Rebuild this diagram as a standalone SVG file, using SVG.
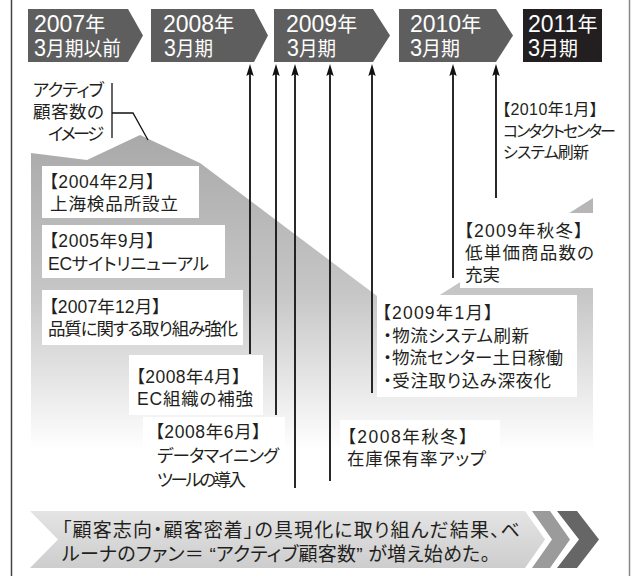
<svg xmlns="http://www.w3.org/2000/svg" width="631" height="576" viewBox="0 0 631 576">
<defs>
<linearGradient id="mtn" gradientUnits="userSpaceOnUse" x1="0" y1="135" x2="0" y2="450">
<stop offset="0" stop-color="#a9a9a9"/>
<stop offset="0.5" stop-color="#c6c6c6"/>
<stop offset="1" stop-color="#ffffff"/>
</linearGradient>
<linearGradient id="ban" x1="0" y1="0" x2="0" y2="1">
<stop offset="0" stop-color="#e4e4e4"/>
<stop offset="1" stop-color="#cdcdcd"/>
</linearGradient>
<marker id="ah" viewBox="0 0 12 8" refX="6" refY="4" markerWidth="12" markerHeight="8" markerUnits="userSpaceOnUse" orient="auto-start-reverse">
<path d="M0,0.3 L12,4 L0,7.7 L2,4 Z" fill="#111"/>
</marker>
</defs>
<style>
text{font-family:"Liberation Sans","Noto Sans CJK JP",sans-serif;font-feature-settings:"palt" 1;fill:#231f20}
.hd{font-size:20px;fill:#fff}
.hn{font-size:23px}
.t{font-size:17.5px}
.s{font-size:16px}
.b{font-size:19px}
.box{fill:#fff}
.arr{stroke:#111;stroke-width:1.8;fill:none;marker-start:url(#ah)}
</style>
<rect width="631" height="576" fill="#fff"/>
<line x1="11.5" y1="0" x2="11.5" y2="576" stroke="#444" stroke-width="1.5"/>
<line x1="629.5" y1="0" x2="629.5" y2="576" stroke="#888" stroke-width="1.5"/>

<g id="mountain">
<polygon points="31,153 87,160 140,135 200,163 405,317 593,198 593,470 31,470" fill="url(#mtn)"/>
</g>

<g id="header">
<g id="h2007"><polygon points="28,9 128,9 143,35.5 128,62 28,62" fill="#5e5e5e"/>
<text class="hd" x="34" y="31.5"><tspan class="hn">2007</tspan>年</text><text class="hd" x="34" y="55.5" textLength="87" lengthAdjust="spacingAndGlyphs"><tspan class="hn">3</tspan>月期以前</text></g>
<g id="h2008"><polygon points="151,9 254,9 268,35.5 254,62 151,62" fill="#5e5e5e"/>
<text class="hd" x="163" y="31.5"><tspan class="hn">2008</tspan>年</text><text class="hd" x="164" y="55.5" textLength="49" lengthAdjust="spacingAndGlyphs"><tspan class="hn">3</tspan>月期</text></g>
<g id="h2009"><polygon points="274,9 373,9 390,35.5 373,62 274,62" fill="#5e5e5e"/>
<text class="hd" x="286" y="31.5"><tspan class="hn">2009</tspan>年</text><text class="hd" x="287" y="55.5" textLength="49" lengthAdjust="spacingAndGlyphs"><tspan class="hn">3</tspan>月期</text></g>
<g id="h2010"><polygon points="399,9 496,9 513,35.5 496,62 399,62" fill="#5e5e5e"/>
<text class="hd" x="410" y="31.5"><tspan class="hn">2010</tspan>年</text><text class="hd" x="410" y="55.5" textLength="50" lengthAdjust="spacingAndGlyphs"><tspan class="hn">3</tspan>月期</text></g>
<g id="h2011"><rect x="523" y="9" width="79" height="53" fill="#231f20"/>
<text class="hd" x="528" y="31.5"><tspan class="hn">2011</tspan>年</text><text class="hd" x="528" y="55.5" textLength="50" lengthAdjust="spacingAndGlyphs"><tspan class="hn">3</tspan>月期</text></g>
</g>

<g id="legend">
<text class="t" x="104" y="96" text-anchor="end" textLength="71">アクティブ</text>
<text class="t" x="104" y="118" text-anchor="end" textLength="71">顧客数の</text>
<text class="t" x="104" y="140" text-anchor="end" textLength="56">イメージ</text>
<polyline points="112,83 112,138" fill="none" stroke="#111" stroke-width="1.3"/>
<polyline points="112,113 133,113 148,140" fill="none" stroke="#111" stroke-width="1.3"/>
</g>

<g id="connectors">
<line class="arr" x1="250" y1="70" x2="250" y2="354"/>
<line class="arr" x1="276" y1="70" x2="276" y2="415"/>
<line class="arr" x1="295" y1="70" x2="295" y2="488"/>
<line class="arr" x1="330" y1="70" x2="330" y2="481"/>
<line class="arr" x1="372" y1="70" x2="372" y2="393"/>
<line class="arr" x1="453" y1="70" x2="453" y2="278"/>
<line class="arr" x1="496" y1="70" x2="496" y2="198"/>
</g>

<g id="e2004"><rect class="box" x="42" y="166" width="157" height="52"/>
<text class="t" x="49" y="188" textLength="106">【2004年2月】</text>
<text class="t" x="50" y="210" textLength="128">上海検品所設立</text></g>
<g id="e2005"><rect class="box" x="42" y="225" width="183" height="53"/>
<text class="t" x="49" y="247" textLength="106">【2005年9月】</text>
<text class="t" x="48" y="270" textLength="161">ECサイトリニューアル</text></g>
<g id="e2007"><rect class="box" x="42" y="290" width="201" height="55"/>
<text class="t" x="49" y="313" textLength="112">【2007年12月】</text>
<text class="t" x="48" y="335" textLength="190">品質に関する取り組み強化</text></g>
<g id="e2008a"><rect class="box" x="129" y="355" width="134" height="60"/>
<text class="t" x="136" y="383" textLength="105">【2008年4月】</text>
<text class="t" x="137" y="405" textLength="116">EC組織の補強</text></g>
<g id="e2008b"><rect class="box" x="143" y="417" width="142" height="76"/>
<text class="t" x="155" y="438" textLength="106">【2008年6月】</text>
<text class="t" x="157" y="462" textLength="122">データマイニング</text>
<text class="t" x="157" y="486" textLength="89">ツールの導入</text></g>
<g id="e2008c"><rect class="box" x="340" y="420" width="160" height="55"/>
<text class="t" x="347" y="443" textLength="121">【2008年秋冬】</text>
<text class="t" x="347" y="465" textLength="139">在庫保有率アップ</text></g>
<g id="e2009a"><rect class="box" x="377" y="295" width="200" height="102"/>
<text class="t" x="382" y="319" textLength="111">【2009年1月】</text>
<text class="t" x="383" y="342" textLength="146">・物流システム刷新</text>
<text class="t" x="383" y="364" textLength="180">・物流センター土日稼働</text>
<text class="t" x="383" y="387" textLength="168">・受注取り込み深夜化</text></g>
<g id="e2009b"><rect class="box" x="460" y="213" width="133" height="75"/>
<text class="t" x="464" y="237" textLength="119">【2009年秋冬】</text>
<text class="t" x="465" y="259" textLength="129">低単価商品数の</text>
<text class="t" x="465" y="281">充実</text></g>
<g id="e2010">
<text class="s" x="502" y="115" textLength="96">【2010年1月】</text>
<text class="s" x="503" y="137" textLength="113">コンタクトセンター</text>
<text class="s" x="503" y="158" textLength="86">システム刷新</text></g>

<g id="banner">
<polygon points="30,511 525,511 545,539.5 525,568 30,568 58,539.5" fill="url(#ban)"/>
<polygon points="532,511 550,511 570,539.5 550,568 532,568 552,539.5" fill="#9b9b9b"/>
<polygon points="557,511 577,511 599,539.5 577,568 557,568 579,539.5" fill="#666"/>
<text class="b" x="62" y="537" textLength="458">「顧客志向・顧客密着」の具現化に取り組んだ結果、ベ</text>
<text class="b" x="62" y="561" textLength="428">ルーナのファン＝ “アクティブ顧客数” が増え始めた。</text>
</g>
</svg>
